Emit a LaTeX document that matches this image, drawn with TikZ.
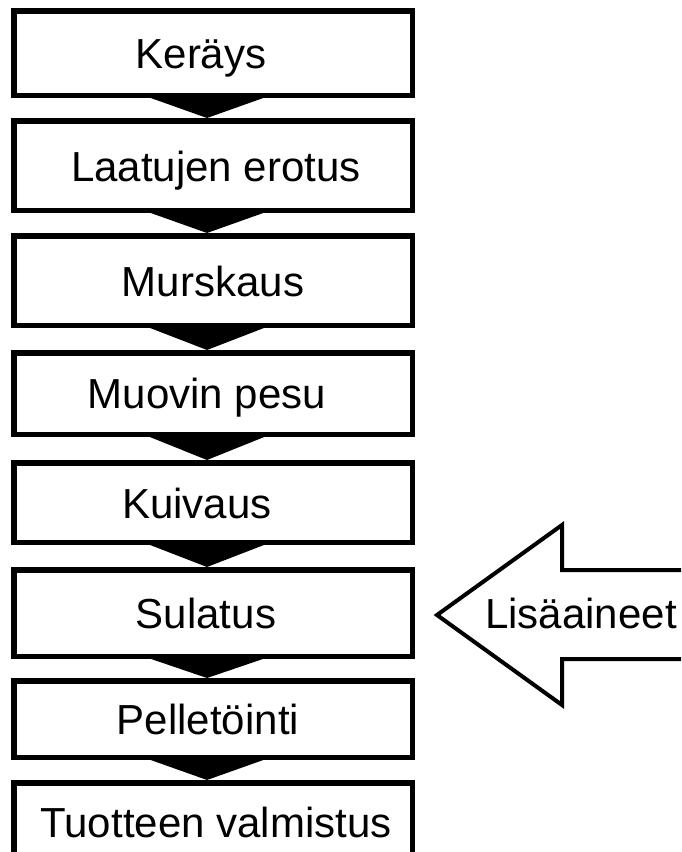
\documentclass[tikz,border=0pt]{standalone}
\usepackage{fontspec}
\setmainfont{Liberation Sans}
\begin{document}
\begin{tikzpicture}[x=1pt,y=-1pt,
  stepbox/.style={draw=black,fill=white,line width=5.5pt,rectangle,
    minimum width=398.5pt,inner sep=0pt,outer sep=0pt},
  steptext/.style={font=\fontsize{42}{50}\selectfont,anchor=base,inner sep=0pt},
  flowtri/.style={fill=black},
  inflow/.style={draw=black,fill=white,line width=4pt,line join=miter,miter limit=10}]
\useasboundingbox (0,0) rectangle (681,852);
\clip (0,0) rectangle (681,852);

% process boxes
\node[stepbox,minimum height=84.5pt] (b1) at (213,53)    {};
\node[stepbox,minimum height=89.5pt] (b2) at (213,165.5) {};
\node[stepbox,minimum height=89.5pt] (b3) at (213,280.5) {};
\node[stepbox,minimum height=81.5pt] (b4) at (213,393.5) {};
\node[stepbox,minimum height=79.5pt] (b5) at (213,502.5) {};
\node[stepbox,minimum height=86.5pt] (b6) at (213,613)   {};
\node[stepbox,minimum height=76.5pt] (b7) at (213,719)   {};
\node[stepbox,minimum height=114.5pt] (b8) at (213,840)  {};

% step labels
\node[steptext] (t1) at (201,68)    {Keräys};
\node[steptext] (t2) at (216,181)   {Laatujen erotus};
\node[steptext] (t3) at (213,296)   {Murskaus};
\node[steptext] (t4) at (207,408.5) {Muovin pesu};
\node[steptext] (t5) at (197,518)   {Kuivaus};
\node[steptext] (t6) at (206,628)   {Sulatus};
\node[steptext] (t7) at (208,734.5) {Pelletöinti};
\node[steptext] (t8) at (216,837)   {Tuotteen valmistus};

% wedges joining consecutive steps
\foreach \a/\b in {b1/b2,b2/b3,b3/b4,b4/b5,b5/b6,b6/b7,b7/b8}
  \fill[flowtri] ([xshift=-70pt]\a.south) -- ([xshift=58pt]\a.south)
     -- ([xshift=-6pt,yshift=2.75pt]\b.north) -- cycle;

% additives arrow entering the melting step
\path[inflow] (700,570) -- (562,570) -- (562,525) -- (437,615)
  -- (562,705) -- (562,659) -- (700,659);
\node[steptext] (add) at (581,628) {Lisäaineet};
\end{tikzpicture}
\end{document}
